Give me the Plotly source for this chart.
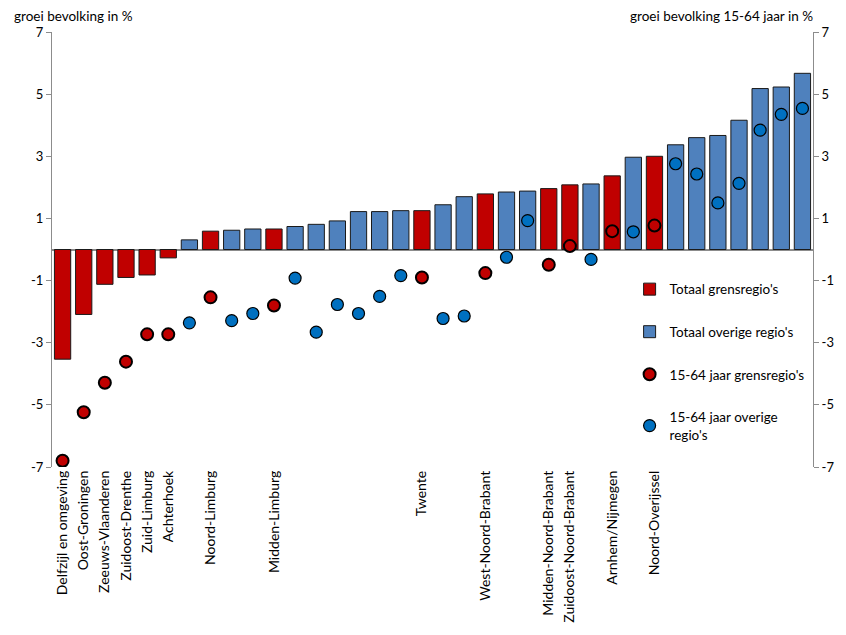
import plotly.graph_objects as go

# --- data ---
labels = ["Delfzijl en omgeving", "Oost-Groningen", "Zeeuws-Vlaanderen", "Zuidoost-Drenthe",
          "Zuid-Limburg", "Achterhoek", "", "Noord-Limburg", "", "", "Midden-Limburg", "",
          "", "", "", "", "", "Twente", "", "", "West-Noord-Brabant", "", "",
          "Midden-Noord-Brabant", "Zuidoost-Noord-Brabant", "", "Arnhem/Nijmegen", "",
          "Noord-Overijssel", "", "", "", "", "", "", ""]
totaal = [-3.53, -2.09, -1.12, -0.90, -0.82, -0.27, 0.31, 0.59, 0.62, 0.66, 0.66, 0.74,
          0.81, 0.92, 1.22, 1.22, 1.25, 1.25, 1.44, 1.70, 1.79, 1.85, 1.88, 1.96, 2.08,
          2.11, 2.37, 2.97, 3.00, 3.37, 3.60, 3.67, 4.16, 5.18, 5.23, 5.67]
jong = [-6.80, -5.24, -4.29, -3.61, -2.73, -2.73, -2.36, -1.54, -2.29, -2.06, -1.80, -0.92,
        -2.66, -1.77, -2.06, -1.51, -0.84, -0.90, -2.22, -2.14, -0.76, -0.25, 0.93, -0.49,
        0.11, -0.32, 0.59, 0.57, 0.77, 2.76, 2.43, 1.50, 2.13, 3.84, 4.35, 4.54]
grens = [1, 1, 1, 1, 1, 1, 0, 1, 0, 0, 1, 0, 0, 0, 0, 0, 0, 1, 0, 0, 1, 0, 0, 1, 1, 0,
         1, 0, 1, 0, 0, 0, 0, 0, 0, 0]
yticks = [-7, -5, -3, -1, 1, 3, 5, 7]

RED = "#C00000"
BLUE_BAR = "#4F81BD"
BLUE_DOT = "#0070C0"
FONT = "Lato"

idx = list(range(len(labels)))
gi = [i for i in idx if grens[i]]
oi = [i for i in idx if not grens[i]]

fig = go.Figure()
fig.add_trace(go.Bar(x=gi, y=[totaal[i] for i in gi], name="Totaal grensregio's",
                     marker=dict(color=RED, line=dict(color="#1a1a1a", width=1)),
                     width=0.77, legendgroup="a"))
fig.add_trace(go.Bar(x=oi, y=[totaal[i] for i in oi], name="Totaal overige regio's",
                     marker=dict(color=BLUE_BAR, line=dict(color="#1a1a1a", width=1)),
                     width=0.77, legendgroup="b"))
fig.add_trace(go.Scatter(x=gi, y=[jong[i] for i in gi], name="15-64 jaar grensregio's",
                         mode="markers", yaxis="y2",
                         marker=dict(color=RED, size=12, line=dict(color="black", width=2)),
                         legendgroup="c"))
fig.add_trace(go.Scatter(x=oi, y=[jong[i] for i in oi], name="15-64 jaar overige<br>regio's",
                         mode="markers", yaxis="y2",
                         marker=dict(color=BLUE_DOT, size=12, line=dict(color="black", width=1.2)),
                         legendgroup="d"))

axis_common = dict(range=[-7, 7], tickvals=yticks, ticktext=[str(v) for v in yticks],
                   showgrid=False, showline=True, linecolor="#8c8c8c", linewidth=1,
                   ticks="outside", ticklen=5, tickcolor="#8c8c8c",
                   tickfont=dict(family=FONT, size=13, color="black"))

W, H = 838, 627
L, T = 44, 24
PW, PH = 769, 436

fig.update_layout(
    width=W, height=H,
    margin=dict(l=L, r=W - L - PW, t=T, b=H - T - PH),
    paper_bgcolor="white", plot_bgcolor="white",
    font=dict(family=FONT, size=14, color="black"),
    barmode="overlay",
    showlegend=True,
    legend=dict(x=0.759, y=0.444, xanchor="left", yanchor="top",
                font=dict(family=FONT, size=13.5, color="black"),
                tracegroupgap=22, bgcolor="rgba(0,0,0,0)"),
    xaxis=dict(range=[-0.5, 35.5], tickmode="array", tickvals=idx, ticktext=labels,
               tickangle=-90, showgrid=False, showline=False, zeroline=False, ticks="",
               tickfont=dict(family=FONT, size=14, color="black")),
    yaxis=dict(**axis_common, zeroline=True, zerolinecolor="#8c8c8c", zerolinewidth=1.5),
    yaxis2=dict(**axis_common, overlaying="y", side="right", zeroline=False),
    annotations=[
        dict(text="groei bevolking in %", xref="paper", yref="paper",
             x=(4 - L) / PW, y=1.0, xanchor="left", yanchor="bottom", yshift=6,
             showarrow=False, font=dict(family=FONT, size=13.5, color="black")),
        dict(text="groei bevolking 15-64 jaar in %", xref="paper", yref="paper",
             x=(815 - L) / PW, y=1.0, xanchor="right", yanchor="bottom", yshift=6,
             showarrow=False, font=dict(family=FONT, size=13.5, color="black")),
    ],
)

fig.write_html("out.html")
